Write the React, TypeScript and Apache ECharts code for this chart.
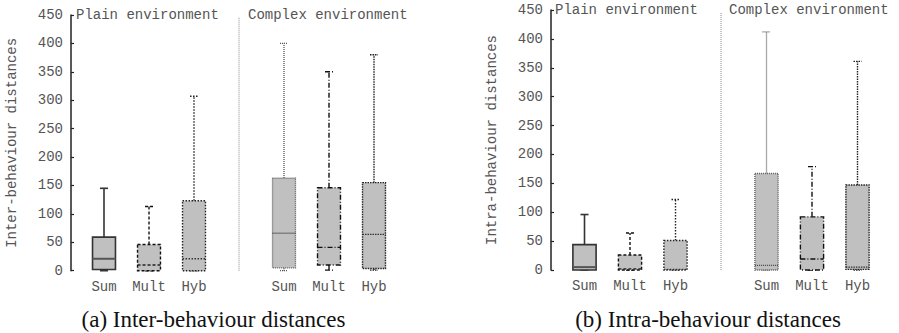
import React, { useEffect, useRef } from "react";
import * as echarts from "echarts";

// Category slots: index 3 is the gap between plain and complex environments
const categories = ["Sum", "Mult", "Hyb", "", "Sum", "Mult", "Hyb"];
const boxSlots = [0, 1, 2, 4, 5, 6];
const yTicks = { min: 0, max: 450, interval: 50 };

// [min, Q1, median, Q3, max] — inter-behaviour distances
const interSum = [0, 2, 21, 59, 145];
const interMult = [0, 0, 10, 46, 113];
const interHyb = [0, 0, 21, 123, 307];
const interCplxSum = [0, 5, 66, 163, 400];
const interCplxMult = [1, 10, 41, 146, 350];
const interCplxHyb = [1, 4, 64, 155, 380];

// [min, Q1, median, Q3, max] — intra-behaviour distances
const intraSum = [0, 0, 5, 44, 96];
const intraMult = [0, 0, 2, 26, 64];
const intraHyb = [0, 0, 1, 51, 122];
const intraCplxSum = [0, 0, 8, 167, 412];
const intraCplxMult = [0, 0, 19, 92, 179];
const intraCplxHyb = [0, 1, 5, 147, 361];

const interBoxes = [interSum, interMult, interHyb, interCplxSum, interCplxMult, interCplxHyb];
const intraBoxes = [intraSum, intraMult, intraHyb, intraCplxSum, intraCplxMult, intraCplxHyb];

// Line style per box (same order in both panels)
const boxStyles = [
  { color: "#333", width: 1.6, dash: null as number[] | null, median: "#555", medianWidth: 2 },
  { color: "#111", width: 1.4, dash: [3, 2], median: "#222", medianWidth: 1.4 },
  { color: "#222", width: 1.4, dash: [1.5, 1.5], median: "#333", medianWidth: 1.4 },
  { color: "#555", width: 1.3, dash: [1, 1], median: "#444", medianWidth: 1.4 },
  { color: "#111", width: 1.4, dash: [5, 2, 1, 2], median: "#111", medianWidth: 1.4 },
  { color: "#222", width: 1.4, dash: [1.5, 1, 1.5, 1], median: "#333", medianWidth: 1.4 },
];

const MONO = "Liberation Mono";
const TXT = "#555";

function renderBox(params: any, api: any) {
  const x = api.value(0);
  const mn = api.value(1);
  const q1 = api.value(2);
  const med = api.value(3);
  const q3 = api.value(4);
  const mx = api.value(5);
  const band = api.size([1, 0])[0];
  const bw = band * 0.51;
  const capW = 8;
  const pMin = api.coord([x, mn]);
  const pQ1 = api.coord([x, q1]);
  const pMed = api.coord([x, med]);
  const pQ3 = api.coord([x, q3]);
  const pMax = api.coord([x, mx]);
  const cx = pMin[0];
  const st = boxStyles[params.dataIndex];
  const line: any = { stroke: st.color, lineWidth: st.width, fill: null };
  if (st.dash) line.lineDash = st.dash;
  const medLine: any = { stroke: st.median, lineWidth: st.medianWidth };
  if (st.dash) medLine.lineDash = st.dash;
  return {
    type: "group",
    children: [
      { type: "line", shape: { x1: cx, y1: pQ3[1], x2: cx, y2: pMax[1] }, style: line },
      { type: "line", shape: { x1: cx - capW / 2, y1: pMax[1], x2: cx + capW / 2, y2: pMax[1] }, style: line },
      { type: "line", shape: { x1: cx, y1: pQ1[1], x2: cx, y2: pMin[1] }, style: line },
      { type: "line", shape: { x1: cx - capW / 2, y1: pMin[1], x2: cx + capW / 2, y2: pMin[1] }, style: line },
      {
        type: "rect",
        shape: { x: cx - bw / 2, y: pQ3[1], width: bw, height: pQ1[1] - pQ3[1] },
        style: { ...line, fill: "#c0c0c0" },
      },
      { type: "line", shape: { x1: cx - bw / 2, y1: pMed[1], x2: cx + bw / 2, y2: pMed[1] }, style: medLine },
    ],
  };
}

function renderDivider(params: any, api: any) {
  const p0 = api.coord([api.value(0), api.value(1)]);
  const p1 = api.coord([api.value(0), api.value(2)]);
  return {
    type: "line",
    shape: { x1: p0[0], y1: p0[1], x2: p1[0], y2: p1[1] + 2 },
    style: { stroke: "#888", lineWidth: 1, lineDash: [1, 1] },
  };
}

function boxData(boxes: number[][]) {
  return boxes.map((b, i) => [boxSlots[i], ...b]);
}

export default function App() {
  const ref = useRef<HTMLDivElement>(null);
  useEffect(() => {
    if (!ref.current) return;
    const chart = echarts.init(ref.current, null, { renderer: "svg" });
    const yAxisBase = (name: string, gridIndex: number, offset: number) => ({
      type: "value",
      gridIndex,
      min: yTicks.min,
      max: yTicks.max,
      interval: yTicks.interval,
      offset,
      name,
      nameLocation: "middle",
      nameGap: 52,
      nameTextStyle: { fontFamily: MONO, fontSize: 14, color: TXT },
      axisLine: { show: true, lineStyle: { color: "#222", width: 1.5 } },
      axisTick: { show: true, inside: true, length: 3, lineStyle: { color: "#222", width: 1.2 } },
      axisLabel: { fontFamily: MONO, fontSize: 14, color: TXT, margin: 8 },
      splitLine: { show: false },
    });
    const xAxisBase = (gridIndex: number) => ({
      type: "category",
      gridIndex,
      data: categories,
      axisLine: { show: false },
      axisTick: { show: false },
      axisLabel: { fontFamily: MONO, fontSize: 14, color: TXT, margin: 9, interval: 0 },
    });
    const envFont = `14px "${MONO}"`;
    const capFont = `23px "Liberation Serif"`;
    chart.setOption({
      animation: false,
      grid: [
        { left: 81.5, top: 15, width: 315, height: 255.7 },
        { left: 561.75, top: 10, width: 318.5, height: 260 },
      ],
      xAxis: [xAxisBase(0), xAxisBase(1)],
      yAxis: [
        yAxisBase("Inter-behaviour distances", 0, 10.5),
        yAxisBase("Intra-behaviour distances", 1, 10.75),
      ],
      series: [
        {
          type: "custom",
          xAxisIndex: 0,
          yAxisIndex: 0,
          renderItem: renderBox,
          encode: { x: 0, y: [1, 2, 3, 4, 5] },
          data: boxData(interBoxes),
        },
        {
          type: "custom",
          xAxisIndex: 1,
          yAxisIndex: 1,
          renderItem: renderBox,
          encode: { x: 0, y: [1, 2, 3, 4, 5] },
          data: boxData(intraBoxes),
        },
        {
          type: "custom",
          xAxisIndex: 0,
          yAxisIndex: 0,
          renderItem: renderDivider,
          encode: { x: 0, y: [1, 2] },
          data: [[3, 0, 450]],
        },
        {
          type: "custom",
          xAxisIndex: 1,
          yAxisIndex: 1,
          renderItem: renderDivider,
          encode: { x: 0, y: [1, 2] },
          data: [[3, 0, 450]],
        },
      ],
      graphic: [
        { type: "text", x: 76, y: 15, style: { text: "Plain environment", font: envFont, fill: TXT, verticalAlign: "middle" } },
        { type: "text", x: 248, y: 15, style: { text: "Complex environment", font: envFont, fill: TXT, verticalAlign: "middle" } },
        { type: "text", x: 555, y: 10, style: { text: "Plain environment", font: envFont, fill: TXT, verticalAlign: "middle" } },
        { type: "text", x: 729, y: 10, style: { text: "Complex environment", font: envFont, fill: TXT, verticalAlign: "middle" } },
        {
          type: "text",
          x: 213.5,
          y: 319,
          style: { text: "(a) Inter-behaviour distances", font: capFont, fill: "#111", align: "center", verticalAlign: "middle" },
        },
        {
          type: "text",
          x: 708,
          y: 319,
          style: { text: "(b) Intra-behaviour distances", font: capFont, fill: "#111", align: "center", verticalAlign: "middle" },
        },
      ],
    });
    return () => chart.dispose();
  }, []);
  return (
    <div
      ref={ref}
      style={{ position: "absolute", left: 0, top: 0, width: 899, height: 333, background: "#fff" }}
    />
  );
}
